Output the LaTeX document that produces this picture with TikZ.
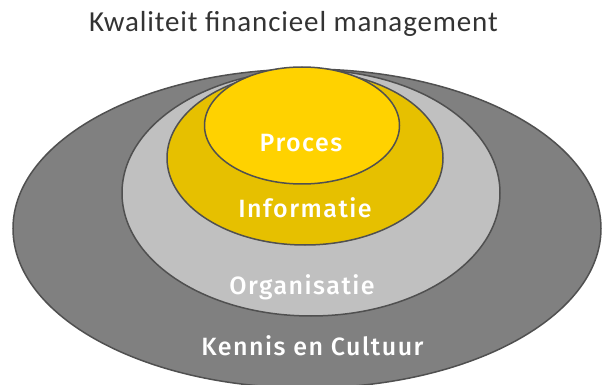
\documentclass[tikz,border=0pt]{standalone}
\usepackage{fontspec}
\setmainfont{Carlito}
\newfontfamily\lblfont[LetterSpace=6]{Fira Sans Medium}
\newfontfamily\titelfont[LetterSpace=3]{Carlito}
\usetikzlibrary{shapes.geometric}
\definecolor{donker}{HTML}{808080}
\definecolor{licht}{HTML}{C0C0C0}
\definecolor{goud}{HTML}{E6C000}
\definecolor{geel}{HTML}{FFD200}
\definecolor{rand}{HTML}{505050}
\definecolor{tekst}{HTML}{333333}

\begin{document}
\begin{tikzpicture}[x=1pt, y=-1pt, ring/.style = {draw=rand, line width=1.5pt, ellipse, inner sep=0pt}, lbl/.style = {text=white, anchor=base, inner sep=0pt, font=\lblfont\fontsize{25}{30}\selectfont}]
		\useasboundingbox (0,0) rectangle (603,385);
		\clip (0,0) rectangle (603,385);
		\node[ring, fill=donker, minimum width=588pt, minimum height=319pt] (kennis) at (307,228.5) {};
		\node[ring, fill=licht, minimum width=378pt, minimum height=246pt] (organisatie) at (311,193) {};
		\node[ring, fill=goud, minimum width=276pt, minimum height=174pt] (informatie) at (305,158) {};
		\node[ring, fill=geel, minimum width=195pt, minimum height=117pt] (proces) at (302,125.5) {};
		\node[lbl] (l1) at (301,152) {Proces};
		\node[lbl] (l2) at (305,218) {Informatie};
		\node[lbl] (l3) at (302,294) {Organisatie};
		\node[lbl] (l4) at (312.5,355) {Kennis en Cultuur};
		\node[anchor=base, inner sep=0pt, text=tekst, font=\titelfont\fontsize{29}{34}\selectfont] (titel) at (293.5,32) {Kwaliteit financieel management};
	\end{tikzpicture}
\end{document}
